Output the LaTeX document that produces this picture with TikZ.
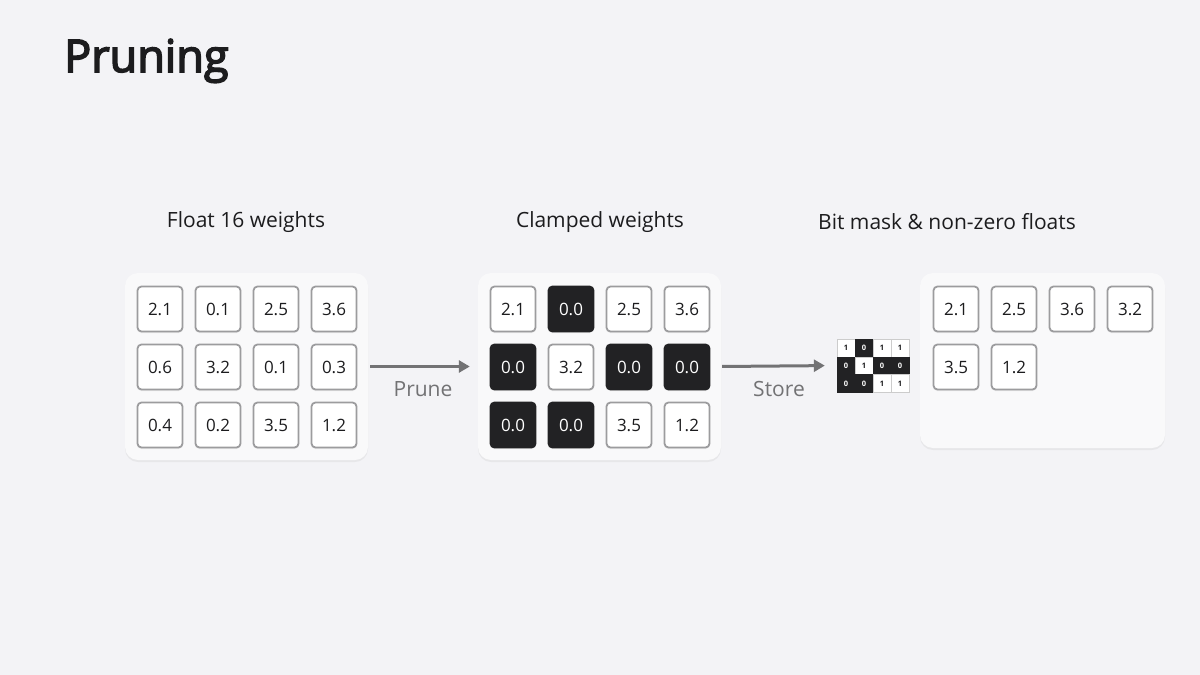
\documentclass[tikz,border=0pt]{standalone}
\usepackage{fontspec}
\setmainfont{Open Sans}
\newfontfamily\titlefont[FakeBold=3.5]{Open Sans}
\usetikzlibrary{shadows,arrows.meta}

\definecolor{bgGray}{HTML}{F3F3F6}
\definecolor{panelGray}{HTML}{F9F9FA}
\definecolor{cellGray}{HTML}{9C9C9E}
\definecolor{zeroBlack}{HTML}{222224}
\definecolor{textDark}{HTML}{1C1C1E}
\definecolor{arrowGray}{HTML}{727274}

\begin{document}
\begin{tikzpicture}[x=1pt, y=-1pt]
    % Kiểu dáng chung
    \tikzset{
        c_panel/.style={draw=none, fill=panelGray, rounded corners=13pt,
            drop shadow={shadow xshift=0pt, shadow yshift=-2pt, opacity=0.10, fill=black!50}},
        c_cell/.style={draw=cellGray, line width=1.8pt, fill=white, rounded corners=4pt,
            minimum size=45pt, inner sep=0pt, text=textDark, font=\fontsize{17}{17}\selectfont,
            drop shadow={shadow xshift=0pt, shadow yshift=-1.5pt, opacity=0.12, fill=black!50}},
        c_zero/.style={c_cell, draw=zeroBlack, fill=zeroBlack, text=white},
        m_one/.style={draw=black!20, line width=0.4pt, fill=white, minimum width=18pt,
            minimum height=17.7pt, inner sep=0pt, text=textDark, font=\fontsize{7.5}{7.5}\selectfont\bfseries},
        m_zero/.style={m_one, draw=zeroBlack, fill=zeroBlack, text=white},
        c_head/.style={text=textDark, font=\fontsize{21}{25}\selectfont},
        c_label/.style={text=arrowGray, font=\fontsize{21}{25}\selectfont},
        c_arrow/.style={draw=arrowGray, line width=3pt, -{Triangle[length=11pt, width=12pt]}}
    }

    % Nền
    \fill[bgGray] (0,0) rectangle (1200,675);
    \useasboundingbox (0,0) rectangle (1200,675);

    % Tiêu đề
    \node[anchor=base west, inner sep=0pt, text=textDark,
        font=\fontsize{45}{50}\titlefont] (title) at (64,72) {Pruning};

    % Ba khung
    \node[c_panel, minimum width=243pt, minimum height=187pt] (P1) at (246.5,366.5) {};
    \node[c_panel, minimum width=243pt, minimum height=187pt] (P2) at (599.5,366.5) {};
    \node[c_panel, minimum width=245pt, minimum height=175pt] (P3) at (1042.5,360.5) {};

    % Nhãn các khung
    \node[c_head] (h1) at (246,222) {Float 16 weights};
    \node[c_head] (h2) at (600,222) {Clamped weights};
    \node[c_head] (h3) at (947,222) {Bit mask \& non-zero floats};

    % Trọng số float 16
    \foreach \v [count=\i from 0] in {2.1,0.1,2.5,3.6,0.6,3.2,0.1,0.3,0.4,0.2,3.5,1.2} {
        \pgfmathtruncatemacro{\c}{mod(\i,4)}
        \pgfmathtruncatemacro{\r}{\i/4}
        \node[c_cell] (f-\i) at (160+58*\c, 309+58*\r) {\v};
    }

    % Trọng số sau khi kẹp
    \foreach \v/\s [count=\i from 0] in {2.1/c_cell,0.0/c_zero,2.5/c_cell,3.6/c_cell,
            0.0/c_zero,3.2/c_cell,0.0/c_zero,0.0/c_zero,
            0.0/c_zero,0.0/c_zero,3.5/c_cell,1.2/c_cell} {
        \pgfmathtruncatemacro{\c}{mod(\i,4)}
        \pgfmathtruncatemacro{\r}{\i/4}
        \node[\s] (k-\i) at (513+58*\c, 309+58*\r) {\v};
    }

    % Mặt nạ bit
    \node[minimum width=72pt, minimum height=53pt, inner sep=0pt] (mask) at (873,365.5) {};
    \foreach \b/\s [count=\i from 0] in {1/m_one,0/m_zero,1/m_one,1/m_one,
            0/m_zero,1/m_one,0/m_zero,0/m_zero,
            0/m_zero,0/m_zero,1/m_one,1/m_one} {
        \pgfmathtruncatemacro{\c}{mod(\i,4)}
        \pgfmathtruncatemacro{\r}{\i/4}
        \node[\s] (m-\i) at (846+18*\c, 348+17.7*\r) {\b};
    }

    % Các số khác không
    \foreach \v [count=\i from 0] in {2.1,2.5,3.6,3.2,3.5,1.2} {
        \pgfmathtruncatemacro{\c}{mod(\i,4)}
        \pgfmathtruncatemacro{\r}{\i/4}
        \node[c_cell] (n-\i) at (956+58*\c, 309+58*\r) {\v};
    }

    % Mũi tên
    \draw[c_arrow, shorten <=2pt, shorten >=8pt] (P1.east) -- node[c_label, below=10pt] {Prune} (P2.west);
    \draw[c_arrow, shorten <=1pt, shorten >=12pt] (P2.east) -- node[c_label, below=10pt] {Store} (mask.west);
\end{tikzpicture}
\end{document}
